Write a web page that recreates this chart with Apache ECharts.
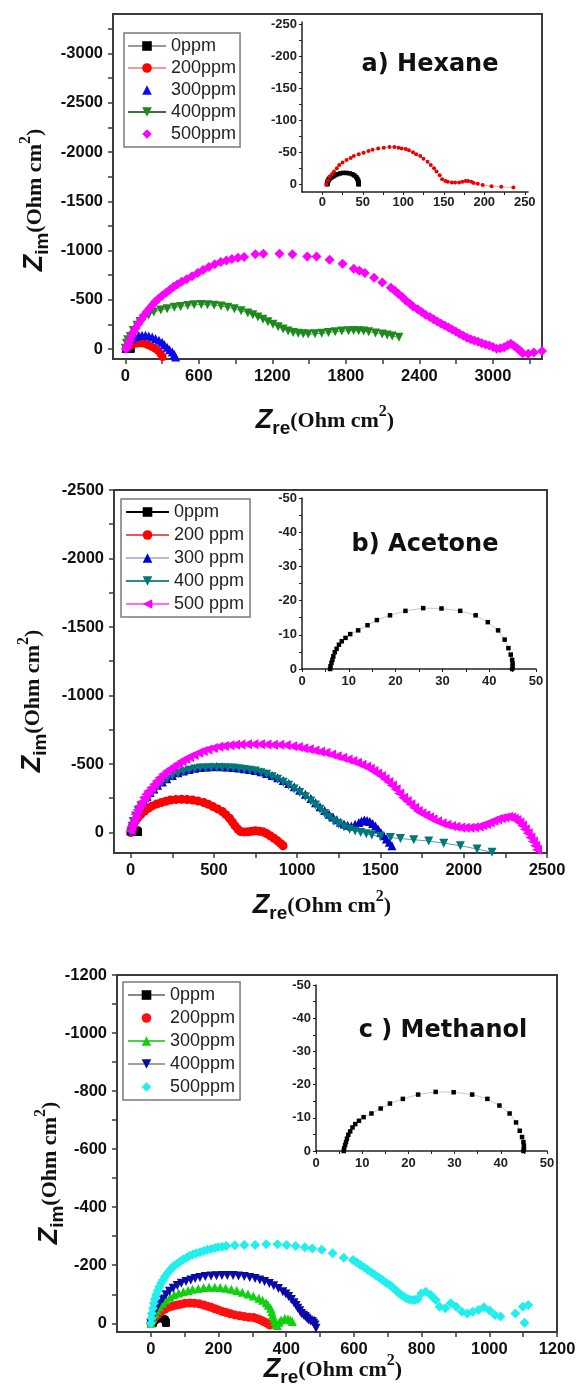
<!DOCTYPE html>
<html><head><meta charset="utf-8">
<script src="https://cdn.jsdelivr.net/npm/echarts@6/dist/echarts.min.js"></script>
<style>html,body{margin:0;padding:0;background:#fff}#c{width:580px;height:1396px}</style>
</head><body><div id="c"></div>
<script>
// ---------- DATA (Zre, Zim) ----------
const blank0ppm = [[6.0,0],[6.1,-0.8],[6.3,-1.8],[6.5,-2.7],[6.7,-3.7],[7.0,-4.9],[7.4,-5.9],[7.9,-7.1],[8.5,-8.1],[9.3,-9.1],[10.3,-10.2],[12.0,-11.3],[14.0,-12.8],[16.0,-14.3],[18.8,-15.7],[22.1,-17.0],[25.9,-17.8],[29.8,-17.7],[33.8,-17.0],[37.1,-15.7],[39.7,-13.7],[41.9,-11.3],[43.3,-8.6],[44.1,-6.1],[44.6,-4.2],[44.9,-2.7],[45.0,-1.6],[45.0,-0.6],[44.9,0]];

const hexaneInset200 = [[5,0],[7,-6],[9,-12],[12,-16],[14.5,-20],[18,-25],[21,-30],[25,-34],[30,-38],[35,-41],[39,-44],[45,-47],[51,-49],[57,-52],[62,-54],[69,-56],[76,-57],[83,-58],[89,-58],[94,-57],[98,-56],[103,-55],[107,-53],[112,-50],[116,-47],[121,-44],[125,-40],[130,-35],[134,-30],[138,-25],[141,-20],[145,-14],[148,-8],[152,-5],[155,-4],[160,-3],[164,-3],[169,-3],[173,-4],[177,-5],[180,-5],[184,-4],[187,-2],[192,-1],[198,1],[209,3],[221,4],[236,5]];

const hexane200 = [[5,-5],[20,-22],[40,-38],[65,-50],[95,-58],[125,-60],[155,-55],[185,-42],[215,-25],[245,-5],[270,20],[290,50],[305,80]];
const hexane300 = [[5,-10],[14,-40],[30,-75],[55,-105],[80,-125],[110,-138],[137,-142],[165,-140],[192,-133],[220,-122],[247,-108],[275,-90],[301,-70],[320,-45],[342,-20],[362,5],[384,30],[400,55],[411,80]];
const hexane400 = [[0,-10],[10,-60],[20,-95],[41,-127],[65,-190],[96,-243],[120,-280],[151,-310],[190,-345],[233,-377],[290,-398],[342,-410],[400,-425],[452,-433],[510,-443],[562,-450],[620,-452],[671,-450],[725,-445],[781,-437],[835,-425],[890,-410],[945,-390],[1000,-367],[1040,-348],[1082,-327],[1123,-302],[1164,-277],[1205,-252],[1247,-227],[1288,-205],[1329,-183],[1370,-170],[1411,-160],[1452,-155],[1493,-153],[1548,-156],[1603,-160],[1658,-168],[1712,-177],[1767,-183],[1822,-187],[1863,-188],[1904,-187],[1945,-183],[1986,-177],[2041,-165],[2096,-153],[2137,-143],[2178,-133],[2233,-120]];
const hexane500 = [[5,-5],[15,-20],[25,-50],[36,-88],[50,-130],[67,-173],[85,-215],[106,-257],[130,-300],[152,-342],[175,-378],[197,-410],[220,-445],[242,-477],[270,-512],[303,-545],[335,-575],[364,-603],[394,-632],[424,-657],[460,-683],[500,-708],[545,-740],[591,-772],[635,-803],[682,-833],[730,-860],[779,-884],[825,-900],[870,-914],[920,-926],[970,-935],[1061,-962],[1127,-968],[1258,-968],[1364,-962],[1485,-941],[1561,-941],[1667,-907],[1773,-867],[1864,-816],[1910,-795],[1955,-772],[2030,-725],[2097,-677],[2167,-623],[2200,-593],[2227,-562],[2260,-528],[2288,-494],[2320,-462],[2348,-433],[2385,-405],[2418,-376],[2450,-350],[2485,-325],[2515,-303],[2545,-281],[2575,-260],[2606,-240],[2637,-220],[2667,-200],[2697,-178],[2727,-156],[2758,-135],[2788,-115],[2818,-100],[2848,-88],[2878,-74],[2909,-61],[2940,-48],[2970,-37],[3000,-22],[3030,-3],[3060,-10],[3091,-20],[3120,-40],[3145,-54],[3170,-35],[3197,-10],[3220,15],[3242,41],[3288,47],[3333,34],[3400,20]];

const acetone200 = [[0,0],[5,-25],[10,-45],[18,-61],[30,-85],[44,-109],[62,-133],[84,-157],[106,-176],[129,-194],[156,-207],[184,-218],[211,-228],[239,-237],[272,-240],[306,-242],[339,-240],[372,-237],[405,-229],[439,-218],[466,-205],[494,-189],[522,-172],[550,-153],[572,-130],[594,-104],[611,-76],[627,-48],[643,-25],[660,-7],[683,-4],[705,-5],[727,-9],[749,-12],[772,-9],[794,-5],[816,8],[838,24],[860,42],[882,61],[900,80],[915,97]];
const acetone300 = [[0,-12],[8,-50],[18,-85],[30,-122],[44,-157],[62,-194],[80,-230],[98,-262],[117,-291],[140,-318],[162,-344],[190,-369],[217,-392],[250,-415],[284,-436],[317,-449],[350,-460],[384,-468],[417,-475],[450,-478],[483,-480],[517,-481],[550,-480],[583,-478],[616,-475],[650,-470],[683,-465],[716,-459],[749,-453],[783,-443],[816,-431],[849,-416],[882,-400],[916,-380],[949,-358],[982,-334],[1015,-308],[1049,-278],[1082,-247],[1110,-217],[1137,-187],[1165,-160],[1192,-133],[1215,-112],[1237,-92],[1259,-75],[1281,-61],[1303,-53],[1325,-48],[1348,-60],[1370,-73],[1386,-84],[1403,-90],[1420,-87],[1436,-80],[1453,-65],[1470,-48],[1486,-25],[1503,0],[1520,24],[1536,48],[1553,72],[1569,97]];
const acetone400 = [[0,0],[8,-45],[15,-80],[29,-121],[45,-160],[62,-194],[84,-231],[106,-266],[134,-303],[162,-339],[190,-364],[217,-388],[250,-410],[284,-431],[317,-444],[350,-455],[384,-463],[417,-470],[450,-471],[483,-472],[517,-472],[550,-472],[583,-471],[616,-470],[650,-465],[683,-460],[716,-454],[749,-448],[783,-436],[816,-424],[849,-406],[882,-388],[916,-366],[949,-344],[982,-318],[1015,-291],[1049,-261],[1082,-230],[1110,-200],[1137,-170],[1165,-139],[1192,-109],[1220,-84],[1248,-61],[1281,-40],[1315,-24],[1348,-11],[1381,0],[1415,10],[1448,19],[1500,28],[1560,37],[1620,45],[1700,53],[1790,63],[1880,78],[1980,97],[2080,121],[2170,145]];
const acetone500 = [[0,-12],[5,-45],[13,-73],[20,-103],[29,-133],[40,-163],[51,-194],[65,-224],[80,-254],[93,-279],[106,-303],[123,-327],[140,-351],[156,-376],[173,-400],[195,-424],[217,-448],[240,-467],[262,-485],[284,-503],[306,-521],[328,-536],[350,-550],[378,-566],[406,-581],[433,-594],[461,-606],[494,-616],[527,-625],[560,-632],[594,-637],[627,-640],[660,-642],[699,-643],[738,-644],[777,-643],[816,-642],[855,-641],[893,-640],[932,-636],[971,-630],[1004,-623],[1037,-615],[1070,-607],[1104,-598],[1137,-590],[1170,-581],[1204,-569],[1237,-557],[1270,-545],[1303,-533],[1331,-521],[1359,-509],[1386,-495],[1414,-480],[1436,-465],[1458,-448],[1480,-431],[1503,-412],[1525,-391],[1547,-368],[1569,-342],[1591,-315],[1613,-285],[1636,-254],[1658,-229],[1680,-206],[1702,-181],[1724,-157],[1746,-141],[1769,-126],[1791,-111],[1813,-97],[1840,-82],[1868,-68],[1896,-57],[1924,-48],[1951,-41],[1979,-36],[2007,-34],[2035,-34],[2062,-38],[2090,-44],[2112,-52],[2134,-61],[2156,-73],[2178,-85],[2200,-96],[2223,-104],[2245,-110],[2267,-114],[2284,-110],[2300,-102],[2317,-90],[2334,-73],[2350,-50],[2367,-24],[2384,5],[2400,36],[2415,66],[2429,97],[2440,127],[2451,157]];

const methanol200 = [[0,0],[7,-12],[14,-23],[22,-32],[31,-40],[41,-48],[52,-55],[64,-59],[77,-63],[89,-66],[101,-69],[115,-70],[129,-69],[143,-67],[156,-63],[167,-59],[178,-55],[189,-50],[199,-46],[211,-41],[223,-37],[235,-33],[248,-29],[262,-26],[276,-23],[290,-21],[303,-20],[314,-16],[325,-11],[333,-6],[341,-2],[347,2],[352,6]];
const methanol300 = [[0,0],[6,-18],[12,-34],[18,-46],[25,-57],[35,-69],[45,-80],[57,-90],[69,-98],[82,-104],[96,-109],[110,-113],[123,-117],[140,-120],[156,-123],[172,-124],[189,-124],[205,-123],[221,-121],[238,-117],[254,-113],[270,-107],[287,-101],[303,-94],[319,-86],[330,-79],[341,-71],[347,-62],[354,-52],[357,-40],[360,-29],[363,-17],[366,-6],[370,3],[374,8],[379,-4],[385,-11],[396,-17],[405,-15],[412,-11],[418,-6]];
const methanol400 = [[0,0],[5,-20],[12,-40],[18,-55],[25,-69],[35,-84],[45,-98],[55,-110],[66,-121],[78,-130],[90,-138],[104,-144],[118,-149],[131,-154],[145,-158],[161,-161],[178,-163],[194,-164],[210,-165],[226,-165],[243,-165],[259,-163],[276,-161],[292,-158],[308,-154],[322,-149],[336,-144],[350,-137],[363,-129],[377,-120],[390,-109],[399,-101],[407,-92],[415,-82],[423,-71],[429,-61],[434,-52],[440,-43],[445,-34],[451,-28],[456,-23],[461,-17],[466,-11],[472,-8],[477,-6],[481,0],[485,6],[488,17]];
const methanol500 = [[0,0],[2,-17],[3,-34],[6,-52],[9,-69],[12,-84],[16,-98],[20,-112],[25,-126],[30,-138],[36,-149],[42,-161],[49,-172],[56,-182],[63,-192],[71,-200],[80,-207],[88,-214],[96,-220],[105,-226],[114,-232],[124,-237],[134,-241],[145,-245],[156,-249],[167,-253],[178,-256],[189,-259],[199,-262],[211,-264],[223,-266],[248,-269],[276,-270],[308,-270],[341,-272],[374,-272],[401,-270],[428,-266],[455,-262],[477,-258],[505,-253],[537,-241],[570,-226],[597,-218],[608,-210],[619,-201],[630,-193],[641,-184],[652,-175],[663,-166],[674,-158],[684,-149],[695,-140],[706,-132],[714,-124],[723,-115],[731,-106],[739,-98],[747,-92],[755,-86],[763,-83],[772,-80],[780,-81],[788,-83],[799,-103],[812,-109],[826,-98],[834,-89],[842,-80],[853,-57],[870,-52],[886,-69],[902,-57],[919,-40],[935,-34],[951,-40],[968,-46],[984,-55],[1001,-44],[1017,-29],[1033,-23],[1077,-34],[1099,-57],[1115,-63],[1104,-2]];

// ---------- TICKS ----------
const hexaneXLabels = [0,600,1200,1800,2400,3000];
const hexaneXTicks = [0,300,600,900,1200,1500,1800,2100,2400,2700,3000,3300];
const hexaneYLabels = [-3000,-2500,-2000,-1500,-1000,-500,0];
const hexaneYTicks = [-3250,-3000,-2750,-2500,-2250,-2000,-1750,-1500,-1250,-1000,-750,-500,-250,0];
const hexaneInsetXLabels = [0,50,100,150,200,250];
const hexaneInsetXTicks = [0,25,50,75,100,125,150,175,200,225,250];
const hexaneInsetYLabels = [-250,-200,-150,-100,-50,0];
const hexaneInsetYTicks = [-250,-225,-200,-175,-150,-125,-100,-75,-50,-25,0];
const acetoneXLabels = [0,500,1000,1500,2000,2500];
const acetoneXTicks = [0,250,500,750,1000,1250,1500,1750,2000,2250,2500];
const acetoneYLabels = [-2500,-2000,-1500,-1000,-500,0];
const acetoneYTicks = [-2500,-2250,-2000,-1750,-1500,-1250,-1000,-750,-500,-250,0];
const methanolXLabels = [0,200,400,600,800,1000,1200];
const methanolXTicks = [0,100,200,300,400,500,600,700,800,900,1000,1100,1200];
const methanolYLabels = [-1200,-1000,-800,-600,-400,-200,0];
const methanolYTicks = [-1200,-1100,-1000,-900,-800,-700,-600,-500,-400,-300,-200,-100,0];
const insetXLabels = [0,10,20,30,40,50];
const insetXTicks = [0,5,10,15,20,25,30,35,40,45,50];
const insetYLabels = [-50,-40,-30,-20,-10,0];
const insetYTicks = [-50,-45,-40,-35,-30,-25,-20,-15,-10,-5,0];

const legendA = ['a:0ppm','a:200ppm','a:300ppm','a:400ppm','a:500ppm'];
const legendB = ['b:0ppm','b:200 ppm','b:300 ppm','b:400 ppm','b:500 ppm'];
const legendC = ['c:0ppm','c:200ppm','c:300ppm','c:400ppm','c:500ppm'];

// ---------- BUILD ----------
function axis(o){
  return {
    type:'value', gridIndex:o.grid, min:o.min, max:o.max, inverse:!!o.inverse,
    axisLine:{show:true,onZero:false,lineStyle:{color:o.lc,width:o.lw}},
    axisTick:{show:true,inside:false,length:o.tl,customValues:o.ticks,lineStyle:{color:o.lc,width:o.tw}},
    axisLabel:{show:true,customValues:o.labels,margin:o.margin,formatter:function(v){return String(v);},
      color:o.color,fontFamily:'Liberation Sans',fontWeight:'bold',fontSize:o.fs},
    splitLine:{show:false}, minorTick:{show:false}
  };
}
const mainAx = {lc:'#3c3c3c',lw:2,tl:5,tw:1.5,color:'#111',fs:16.5};
const insAx = {lc:'#222',lw:1.5,tl:3,tw:1,color:'#222',fs:13};
function mx(grid,min,max,labels,ticks){return axis(Object.assign({},mainAx,{grid,min,max,labels,ticks,margin:9}));}
function my(grid,min,max,labels,ticks){return axis(Object.assign({},mainAx,{grid,min,max,labels,ticks,margin:10,inverse:true}));}
function ix(grid,min,max,labels,ticks,m){return axis(Object.assign({},insAx,{grid,min,max,labels,ticks,margin:m}));}
function iy(grid,min,max,labels,ticks){return axis(Object.assign({},insAx,{grid,min,max,labels,ticks,margin:5,inverse:true}));}

// lineColor null => markers only (no connecting line)
function ser(name, idx, data, symbol, size, rot, color, lineColor){
  return {name, type:'line', xAxisIndex:idx, yAxisIndex:idx, data, symbol, symbolSize:size, symbolRotate:rot,
    showSymbol:true, showAllSymbol:true,
    lineStyle: lineColor ? {color:lineColor,width:0.8} : {color:color,width:0,opacity:0},
    itemStyle:{color, opacity:1}, silent:true, emphasis:{disabled:true}, clip:true};
}

const series = [
  ser('a:0ppm',0,blank0ppm,'rect',7,0,'#000','#999'),
  ser('a:200ppm',0,hexane200,'circle',8,0,'#ff0000','#f29a9a'),
  ser('a:300ppm',0,hexane300,'triangle',9,0,'#0a0aee',null),
  ser('a:400ppm',0,hexane400,'triangle',9,180,'#1c8a1c','#3f6f3f'),
  ser('a:500ppm',0,hexane500,'diamond',10,0,'#ff00ff',null),
  ser('a:i0',1,blank0ppm,'rect',4.5,0,'#000','#999'),
  ser('a:i200',1,hexaneInset200,'circle',4,0,'#ee0000','#f29a9a'),

  ser('b:0ppm',2,blank0ppm,'rect',7,0,'#000','#000'),
  ser('b:200 ppm',2,acetone200,'circle',9,0,'#ff0000','#e85a5a'),
  ser('b:300 ppm',2,acetone300,'triangle',9,0,'#0000cc','#b8b8d8'),
  ser('b:400 ppm',2,acetone400,'triangle',9,180,'#007878','#2a8a8a'),
  ser('b:500 ppm',2,acetone500,'triangle',10,90,'#ff00ff','#ff6bff'),
  ser('b:i0',3,blank0ppm,'rect',4.5,0,'#000','#bbb'),

  ser('c:0ppm',4,blank0ppm,'rect',7,0,'#000','#888'),
  ser('c:200ppm',4,methanol200,'circle',9,0,'#ff1010',null),
  ser('c:300ppm',4,methanol300,'triangle',9,0,'#10d010','#4ad04a'),
  ser('c:400ppm',4,methanol400,'triangle',9,180,'#0a0aa8','#a0a0a0'),
  ser('c:500ppm',4,methanol500,'diamond',10,0,'#22eeee',null),
  ser('c:i0',5,blank0ppm,'rect',4.5,0,'#000','#bbb')
];

function legend(data,left,top,itemWidth,itemGap,padding){
  return {orient:'vertical',left,top,data,itemWidth,itemHeight:12,itemGap,padding,
    selectedMode:false,borderColor:'#7a7a7a',borderWidth:1.5,backgroundColor:'#fff',
    formatter:function(n){return n.split(':')[1];},
    textStyle:{fontFamily:'Liberation Sans',fontSize:18,color:'#222'}};
}

const rich = {
  z:{fontFamily:'Liberation Sans',fontStyle:'italic',fontWeight:'bold',fontSize:27,lineHeight:34,verticalAlign:'middle',fill:'#111'},
  s:{fontFamily:'Liberation Sans',fontWeight:'bold',fontSize:19,lineHeight:21,verticalAlign:'bottom',fill:'#111'},
  t:{fontFamily:'Liberation Serif',fontWeight:'bold',fontSize:22,lineHeight:34,verticalAlign:'middle',fill:'#111'},
  p:{fontFamily:'Liberation Serif',fontWeight:'bold',fontSize:16,lineHeight:16,verticalAlign:'top',fill:'#111'}
};
function axName(sub,x,y,rot){
  return {type:'text',x,y,rotation:rot,silent:true,z:50,
    style:{text:'{z|Z}{s|'+sub+'}{t|(Ohm cm}{p|2}{t|)}',rich,align:'center',verticalAlign:'middle',textAlign:'center',textVerticalAlign:'middle'}};
}
function title(text,x,y){
  return {type:'text',x,y,silent:true,z:50,
    style:{text,fill:'#111',fontFamily:'DejaVu Sans',fontWeight:'bold',fontSize:24,align:'center',verticalAlign:'middle',textAlign:'center',textVerticalAlign:'middle'}};
}

const option = {
  animation:false, backgroundColor:'#fff',
  grid:[
    {left:113,top:14,width:429,height:345,show:true,borderColor:'#3c3c3c',borderWidth:2,backgroundColor:'transparent'},
    {left:302,top:22,width:226,height:170},
    {left:114,top:490,width:433,height:363,show:true,borderColor:'#3c3c3c',borderWidth:2,backgroundColor:'transparent'},
    {left:302,top:498,width:234,height:171},
    {left:117,top:975,width:440,height:357,show:true,borderColor:'#3c3c3c',borderWidth:2,backgroundColor:'transparent'},
    {left:316,top:985,width:231,height:166}
  ],
  xAxis:[
    mx(0,-100,3400,hexaneXLabels,hexaneXTicks),
    ix(1,-25,254,hexaneInsetXLabels,hexaneInsetXTicks,4),
    mx(2,-100,2500,acetoneXLabels,acetoneXTicks),
    ix(3,0,50,insetXLabels,insetXTicks,6),
    mx(4,-100,1200,methanolXLabels,methanolXTicks),
    ix(5,0,50,insetXLabels,insetXTicks,6)
  ],
  yAxis:[
    my(0,-3400,100,hexaneYLabels,hexaneYTicks),
    iy(1,-253,12,hexaneInsetYLabels,hexaneInsetYTicks),
    my(2,-2500,150,acetoneYLabels,acetoneYTicks),
    iy(3,-50,0,insetYLabels,insetYTicks),
    my(4,-1200,30,methanolYLabels,methanolYTicks),
    iy(5,-50,0,insetYLabels,insetYTicks)
  ],
  legend:[
    legend(legendA,124,33,38,4,[4,4,4,3]),
    legend(legendB,121,499,43,5,[4,6,4,4]),
    legend(legendC,123,982,37,5,[4,5,4,4])
  ],
  series,
  graphic:[
    title('a) Hexane',430,65),
    title('b) Acetone',425,545),
    title('c ) Methanol',443,1031),
    axName('re',325,421,0),
    axName('re',322,906,0),
    axName('re',333,1370,0),
    axName('im',35,200,Math.PI/2),
    axName('im',33,701,Math.PI/2),
    axName('im',50,1173,Math.PI/2)
  ]
};
const chart = echarts.init(document.getElementById('c'),null,{renderer:'canvas'});
chart.setOption(option);
</script></body></html>
